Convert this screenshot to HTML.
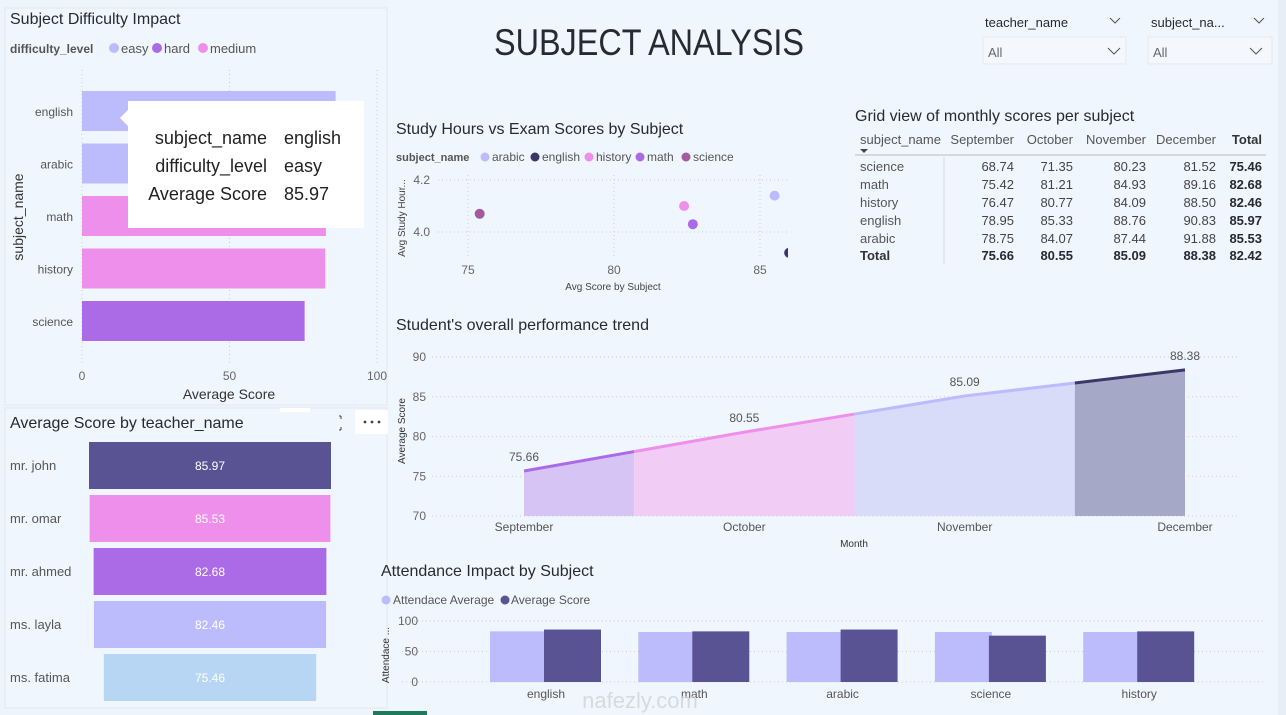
<!DOCTYPE html>
<html><head><meta charset="utf-8">
<style>
html,body{margin:0;padding:0;background:#eef4fb;}
body{width:1286px;height:715px;overflow:hidden;position:relative;font-family:"Liberation Sans","Noto Sans CJK SC",sans-serif;}
svg{position:absolute;left:0;top:0;}
text{font-family:"Liberation Sans","Noto Sans CJK SC",sans-serif;}
</style></head>
<body>
<svg id="root" width="1286" height="715" viewBox="0 0 1286 715">
  <rect x="0" y="0" width="1286" height="715" fill="#eef4fb"/>
  <rect x="388" y="0" width="898" height="715" fill="#f0f6fd"/>
  <rect x="1278" y="0" width="8" height="715" fill="#e8eef5"/>
  <rect x="5" y="8" width="382" height="397" fill="#f0f6fd" stroke="#e2e8ef"/>
  <rect x="5" y="408" width="382" height="300" fill="#f0f6fd" stroke="#e2e8ef"/>
  <rect x="373" y="711" width="54" height="4" fill="#1e7a5a"/>

  <text x="494" y="55" font-size="37" fill="#252a33" textLength="310" lengthAdjust="spacingAndGlyphs">SUBJECT ANALYSIS</text>

  <!-- slicers -->
  <g>
    <text x="985" y="27" font-size="13" fill="#252a33">teacher_name</text>
    <path d="M1110 18 l5 5 l5 -5" fill="none" stroke="#555"/>
    <rect x="983" y="37" width="143" height="27" fill="#f4f8fc" stroke="#e4e9ef"/>
    <text x="988" y="57" font-size="13" fill="#666">All</text>
    <path d="M1108 48 l6 6 l6 -6" fill="none" stroke="#555"/>
  </g>
  <g>
    <text x="1151" y="27" font-size="13" fill="#252a33">subject_na...</text>
    <path d="M1254 18 l5 5 l5 -5" fill="none" stroke="#555"/>
    <rect x="1148" y="37" width="124" height="27" fill="#f4f8fc" stroke="#e4e9ef"/>
    <text x="1153" y="57" font-size="13" fill="#666">All</text>
    <path d="M1250 48 l6 6 l6 -6" fill="none" stroke="#555"/>
  </g>

  <!-- table -->
  <g font-size="13">
    <text x="855" y="121" font-size="16" fill="#252a33">Grid view of monthly scores per subject</text>
    <g id="tbl"></g>
    <line x1="855" y1="155" x2="1266" y2="155" stroke="#d4d9df" stroke-width="2"/>
    <line x1="944" y1="157" x2="944" y2="264" stroke="#d4d9df"/>
    <path d="M860 149 l4 4 l4 -4 z" fill="#444"/>
  </g>

  <g id="diff"></g>
  <g id="funnel"></g>
  <g id="scatter"></g>
  <g id="trend"></g>
  <g id="attend"></g>
</svg>
<script>
const NS='http://www.w3.org/2000/svg';
function mk(parent,tag,attrs,txt){const e=document.createElementNS(NS,tag);for(const k in attrs)e.setAttribute(k,attrs[k]);if(txt!==undefined)e.textContent=txt;parent.appendChild(e);return e;}

// ===== Table data =====
const tblMonths=['September','October','November','December'];
const tblSubjects=['science','math','history','english','arabic'];
const tblValues=[[68.74,71.35,80.23,81.52],[75.42,81.21,84.93,89.16],[76.47,80.77,84.09,88.50],[78.95,85.33,88.76,90.83],[78.75,84.07,87.44,91.88]];
const tblRowTotals=[75.46,82.68,82.46,85.97,85.53];
const tblColTotals=[75.66,80.55,85.09,88.38];
const tblGrandTotal=82.42;

// ===== Difficulty chart data =====
const diffSubjects=['english','arabic','math','history','science'];
const diffValues=[85.97,85.53,82.68,82.46,75.46];
const diffLevels=['easy','easy','medium','medium','hard'];
const diffTicks=[0,50,100];

// ===== Funnel data =====
const funnelTeachers=['mr. john','mr. omar','mr. ahmed','ms. layla','ms. fatima'];
const funnelValues=[85.97,85.53,82.68,82.46,75.46];

// ===== Scatter data =====
const scatSubjects=['arabic','english','history','math','science'];
const scatScores=[85.5,86.0,82.4,82.7,75.4];
const scatHours=[4.14,3.92,4.10,4.03,4.07];
const scatXTicks=[75,80,85];
const scatYTicks=[4.0,4.2];

// ===== Trend data =====
const trendMonths=['September','October','November','December'];
const trendValues=[75.66,80.55,85.09,88.38];
const trendTicks=[70,75,80,85,90];

// ===== Attendance data =====
const attSubjects=['english','math','arabic','science','history'];
const attAttendance=[83,82,82,82,82];
const attScores=[86,83,86,76,83];
const attTicks=[0,50,100];

const C={easy:'#bcbcfc',medium:'#ef8fec',hard:'#ac6be6'};

// ----- Table -----
(function(){
  const g=document.getElementById('tbl');
  const colR=[1014,1073,1146,1216];
  const totR=1262;
  let h=mk(g,'text',{x:860,y:144,fill:'#555','font-size':13},'subject_name');
  
  tblMonths.forEach((m,i)=>{const t=mk(g,'text',{x:colR[i],y:144,fill:'#555','text-anchor':'end','font-size':13},m);
    
    });
  h=mk(g,'text',{x:totR,y:144,fill:'#333','text-anchor':'end','font-weight':'bold','font-size':13},'Total');
  
  tblSubjects.forEach((s,r)=>{
    const y=171+r*18;
    const t=mk(g,'text',{x:860,y:y,fill:'#555','font-size':13},s);
    
    
    tblValues[r].forEach((v,c)=>{const c1=mk(g,'text',{x:colR[c],y:y,fill:'#444','text-anchor':'end','font-size':13},v.toFixed(2));
      
      });
    const tt=mk(g,'text',{x:totR,y:y,fill:'#252a33','text-anchor':'end','font-weight':'bold','font-size':13},tblRowTotals[r].toFixed(2));
    
    
  });
  const yT=171+5*18-1;
  let t=mk(g,'text',{x:860,y:yT,fill:'#333','font-weight':'bold','font-size':13},'Total');
  
  tblColTotals.forEach((v,c)=>{const e=mk(g,'text',{x:colR[c],y:yT,fill:'#252a33','text-anchor':'end','font-weight':'bold','font-size':13},v.toFixed(2));
    
    });
  t=mk(g,'text',{x:totR,y:yT,fill:'#252a33','text-anchor':'end','font-weight':'bold','font-size':13},tblGrandTotal.toFixed(2));
  
})();

// ----- Difficulty bar chart -----
(function(){
  const g=document.getElementById('diff');
  const x=v=>82+v*2.95;
  const bandTop=91, bandStep=52.5, barH=40;
  let e=mk(g,'text',{x:10,y:24,'font-size':16,fill:'#252a33'},'Subject Difficulty Impact');
  
  e=mk(g,'text',{x:10,y:53,'font-size':12,'font-weight':'bold',fill:'#555'},'difficulty_level');
  
  const leg=[['easy',114],['hard',157],['medium',203]];
  leg.forEach(([k,lx])=>{
    const c=mk(g,'circle',{cx:lx,cy:48,r:5,fill:C[k]});
    
    
    const t=mk(g,'text',{x:lx+7,y:53,'font-size':13,fill:'#555'},k);
    
    
  });
  diffTicks.forEach(v=>{
    const l=mk(g,'line',{x1:x(v),y1:70,x2:x(v),y2:365,stroke:'#c8ccd2','stroke-dasharray':'1 3'});
    
    
    const t=mk(g,'text',{x:x(v),y:380,'text-anchor':'middle','font-size':12,fill:'#666'},String(v));
    
    
  });
  diffSubjects.forEach((s,i)=>{
    const y=bandTop+i*bandStep;
    const r=mk(g,'rect',{x:x(0),y:y,width:x(diffValues[i])-x(0),height:barH,fill:C[diffLevels[i]]});
    
    
    const t=mk(g,'text',{x:73,y:y+25,'text-anchor':'end','font-size':12,fill:'#555'},s);
    
    
  });
  e=mk(g,'text',{x:229,y:399,'text-anchor':'middle','font-size':14,fill:'#333'},'Average Score');
  
  e=mk(g,'text',{x:0,y:0,transform:'translate(23,217) rotate(-90)','text-anchor':'middle','font-size':14,fill:'#333'},'subject_name');
  
  // tooltip
  const tip=mk(g,'g',{});
  
  
  mk(tip,'path',{d:'M128 101 H364 V228 H128 V126 L120 118 L128 110 Z',fill:'#ffffff'});
  const rows=[['subject_name',diffSubjects[0]],['difficulty_level',diffLevels[0]],['Average Score',diffValues[0].toFixed(2)]];
  rows.forEach((r,i)=>{
    const a=mk(tip,'text',{x:267,y:144+i*28,'text-anchor':'end','font-size':18,fill:'#222'},r[0]);
    
    
    const b=mk(tip,'text',{x:284,y:144+i*28,'font-size':18,fill:'#222'},r[1]);
    
    
  });
})();

// ----- Funnel -----
(function(){
  const g=document.getElementById('funnel');
  const cols=['#5a5393','#ef8fec','#ac6be6','#bcbcfc','#b6d6f4'];
  const maxW=242, cx=210, max=Math.max(...funnelValues);
  let e=mk(g,'text',{x:10,y:428,'font-size':16,fill:'#252a33'},'Average Score by teacher_name');
  
  e=mk(g,'rect',{x:280,y:408,width:30,height:4,fill:'#fff'});
  
  e=mk(g,'path',{d:'M341 416 v3 M341 427 v3 M339 416 h2 M339 430 h2',stroke:'#444',fill:'none'});
  
  e=mk(g,'rect',{x:355,y:410,width:33,height:24,fill:'#fff'});
  
  [365,372,379].forEach(dx=>{const d=mk(g,'circle',{cx:dx,cy:422,r:1.4,fill:'#444'});
    
    });
  funnelTeachers.forEach((t,i)=>{
    const w=maxW*funnelValues[i]/max;
    const y=442+i*53;
    const r=mk(g,'rect',{x:cx-w/2,y:y,width:w,height:47,fill:cols[i]});
    
    
    const v=mk(g,'text',{x:cx,y:y+28,'text-anchor':'middle','font-size':12,fill:'#fff'},funnelValues[i].toFixed(2));
    
    
    const l=mk(g,'text',{x:10,y:y+28,'font-size':13,fill:'#555'},t);
    
    
  });
})();

// ----- Scatter -----
(function(){
  const g=document.getElementById('scatter');
  const cols=['#bcbcfc','#3b3768','#ef8fec','#ac6be6','#a45aa0'];
  const x=v=>468+(v-75)*29.2, y=v=>232-(v-4.0)*260;
  let e=mk(g,'text',{x:396,y:134,'font-size':16,fill:'#252a33'},'Study Hours vs Exam Scores by Subject');
  
  e=mk(g,'text',{x:396,y:161,'font-size':11,'font-weight':'bold',fill:'#555'},'subject_name');
  
  const lx=[485,535,589,640,686];
  scatSubjects.forEach((s,i)=>{
    const c=mk(g,'circle',{cx:lx[i],cy:157,r:4.5,fill:cols[i]});
    
    
    const t=mk(g,'text',{x:lx[i]+7,y:161,'font-size':12,fill:'#555'},s);
    
    
  });
  scatYTicks.forEach(v=>{
    const l=mk(g,'line',{x1:438,y1:y(v),x2:787,y2:y(v),stroke:'#c8ccd2','stroke-dasharray':'1 3'});
    
    
    const t=mk(g,'text',{x:430,y:y(v)+4,'text-anchor':'end','font-size':12,fill:'#666'},v.toFixed(1));
    
    
  });
  scatXTicks.forEach(v=>{
    const l=mk(g,'line',{x1:x(v),y1:175,x2:x(v),y2:258,stroke:'#c8ccd2','stroke-dasharray':'1 3'});
    
    
    const t=mk(g,'text',{x:x(v),y:274,'text-anchor':'middle','font-size':12,fill:'#666'},String(v));
    
    
  });
  const clip=mk(g,'clipPath',{id:'scClip'});mk(clip,'rect',{x:430,y:170,width:358,height:90});
  const pts=mk(g,'g',{'clip-path':'url(#scClip)'});
  
  
  scatSubjects.forEach((s,i)=>{
    const c=mk(pts,'circle',{cx:x(scatScores[i]),cy:y(scatHours[i]),r:5,fill:cols[i]});
    
    
  });
  e=mk(g,'text',{x:613,y:290,'text-anchor':'middle','font-size':10,fill:'#444'},'Avg Score by Subject');
  
  e=mk(g,'text',{x:0,y:0,transform:'translate(405,218) rotate(-90)','text-anchor':'middle','font-size':10,fill:'#444'},'Avg Study Hour...');
  
})();

// ----- Trend -----
(function(){
  const g=document.getElementById('trend');
  const xs=[524,744,965,1185];
  const x=i=>xs[0]+i*(xs[3]-xs[0])/3, y=v=>516-(v-70)*7.95;
  const lineC=['#ac6be6','#ef8fec','#bcbcfc','#3b3768'];
  const areaC=['#d6c4f5','#f1cdf5','#d9dcf8','#a5a8c6'];
  let e=mk(g,'text',{x:396,y:330,'font-size':16,fill:'#252a33'},"Student's overall performance trend");
  
  trendTicks.forEach(v=>{
    const l=mk(g,'line',{x1:432,y1:y(v),x2:1240,y2:y(v),stroke:'#c8ccd2','stroke-dasharray':'1 3'});
    
    
    const t=mk(g,'text',{x:426,y:y(v)+4,'text-anchor':'end','font-size':12,fill:'#666'},String(v));
    
    
  });
  // segments: [start,end] in index units
  const segs=[[0,0.5],[0.5,1.5],[1.5,2.5],[2.5,3]];
  const valAt=t=>{const i=Math.min(Math.floor(t),2);const f=t-i;return trendValues[i]+(trendValues[i+1]-trendValues[i])*f;};
  segs.forEach((s,k)=>{
    const pts=[];const steps=[s[0]];
    for(let j=Math.ceil(s[0]);j<s[1];j++){if(j>s[0])steps.push(j);}steps.push(s[1]);
    steps.forEach(t=>pts.push([x(t),y(valAt(t))]));
    let d='M'+x(s[0])+' '+y(70);pts.forEach(p=>d+=' L'+p[0]+' '+p[1]);d+=' L'+x(s[1])+' '+y(70)+' Z';
    const a=mk(g,'path',{d:d,fill:areaC[k]});
    
    
    const l=mk(g,'polyline',{points:pts.map(p=>p.join(',')).join(' '),fill:'none',stroke:lineC[k],'stroke-width':3});
    
    
  });
  trendMonths.forEach((m,i)=>{
    const t=mk(g,'text',{x:x(i),y:531,'text-anchor':'middle','font-size':12,fill:'#555'},m);
    
    
    const v=mk(g,'text',{x:x(i),y:y(trendValues[i])-10,'text-anchor':'middle','font-size':12,fill:'#555'},trendValues[i].toFixed(2));
    
    
  });
  e=mk(g,'text',{x:854,y:547,'text-anchor':'middle','font-size':10,fill:'#333'},'Month');
  
  e=mk(g,'text',{x:0,y:0,transform:'translate(405,431) rotate(-90)','text-anchor':'middle','font-size':10,fill:'#333'},'Average Score');
  
})();

// ----- Attendance -----
(function(){
  const g=document.getElementById('attend');
  const y=v=>682-v*0.61;
  const x0=546, step=148.3, bw=57;
  let e=mk(g,'text',{x:381,y:576,'font-size':16,fill:'#252a33'},'Attendance Impact by Subject');
  
  e=mk(g,'circle',{cx:386,cy:600,r:4.5,fill:'#bcbcfc'});
  
  e=mk(g,'text',{x:393,y:604,'font-size':12,fill:'#555'},'Attendace Average');
  
  e=mk(g,'circle',{cx:505,cy:600,r:4.5,fill:'#5a5393'});
  
  e=mk(g,'text',{x:511,y:604,'font-size':12,fill:'#555'},'Average Score');
  
  attTicks.forEach(v=>{
    const l=mk(g,'line',{x1:402,y1:y(v),x2:1266,y2:y(v),stroke:'#c8ccd2','stroke-dasharray':'1 3'});
    
    
    const t=mk(g,'text',{x:418,y:y(v)+4,'text-anchor':'end','font-size':12,fill:'#666'},String(v));
    
    
  });
  attSubjects.forEach((s,i)=>{
    const cx=x0+i*step;
    const a=mk(g,'rect',{x:cx-bw+1,y:y(attAttendance[i]),width:bw,height:y(0)-y(attAttendance[i]),fill:'#bcbcfc'});
    
    
    const b=mk(g,'rect',{x:cx-2,y:y(attScores[i]),width:bw,height:y(0)-y(attScores[i]),fill:'#5a5393'});
    
    
    const t=mk(g,'text',{x:cx,y:698,'text-anchor':'middle','font-size':12,fill:'#555'},s);
    
    
  });
  e=mk(g,'text',{x:0,y:0,transform:'translate(389,655) rotate(-90)','text-anchor':'middle','font-size':10,fill:'#333'},'Attendace ...');
  
  e=mk(g,'text',{x:640,y:708,'text-anchor':'middle','font-size':22,fill:'#d0d4d8','opacity':0.8},'nafezly.com');
  
})();
</script>
</body></html>
